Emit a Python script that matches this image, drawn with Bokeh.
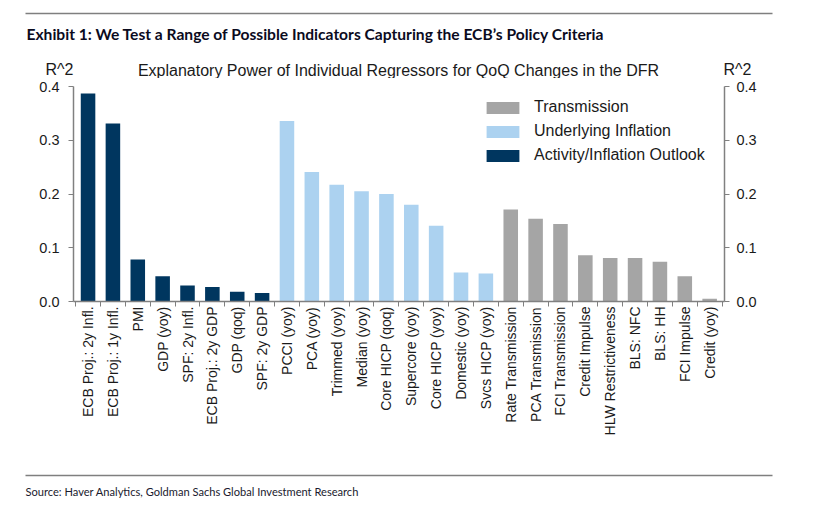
import math
from bokeh.plotting import figure
from bokeh.layouts import column
from bokeh.models import (ColumnDataSource, Range1d, LinearAxis, FixedTicker, PrintfTickFormatter,
                          Label, Legend, LegendItem)
from bokeh.embed import file_html
from bokeh.resources import INLINE

# ---------------- data ----------------
categories = [
    "ECB Proj.: 2y Infl.", "ECB Proj.: 1y Infl.", "PMI", "GDP (yoy)", "SPF: 2y Infl.",
    "ECB Proj.: 2y GDP", "GDP (qoq)", "SPF: 2y GDP",
    "PCCI (yoy)", "PCA (yoy)", "Trimmed (yoy)", "Median (yoy)", "Core HICP (qoq)",
    "Supercore (yoy)", "Core HICP (yoy)", "Domestic (yoy)", "Svcs HICP (yoy)",
    "Rate Transmission", "PCA Transmission", "FCI Transmission", "Credit Impulse",
    "HLW Restrictiveness", "BLS: NFC", "BLS: HH", "FCI Impulse", "Credit (yoy)",
]
r2_values = [
    0.387, 0.331, 0.078, 0.047, 0.030, 0.027, 0.018, 0.016,
    0.336, 0.241, 0.217, 0.205, 0.200, 0.180, 0.141, 0.054, 0.052,
    0.171, 0.154, 0.144, 0.086, 0.081, 0.081, 0.074, 0.047, 0.005,
]
groups = (["Activity/Inflation Outlook"] * 8 + ["Underlying Inflation"] * 9
          + ["Transmission"] * 9)
group_colors = {
    "Transmission": "#A5A5A5",
    "Underlying Inflation": "#ACD2F0",
    "Activity/Inflation Outlook": "#00365F",
}
legend_order = ["Transmission", "Underlying Inflation", "Activity/Inflation Outlook"]
y_ticks = [0.0, 0.1, 0.2, 0.3, 0.4]

title_text = "Exhibit 1: We Test a Range of Possible Indicators Capturing the ECB\u2019s Policy Criteria"
chart_title = "Explanatory Power of Individual Regressors for QoQ Changes in the DFR"
axis_title = "R^2"
source_text = "Source: Haver Analytics, Goldman Sachs Global Investment Research"

FONT = "Liberation Sans"
HEAD_FONT = "Lato"
AXIS_COLOR = "#808080"
LABEL_COLOR = "#1a1a1a"
RULE_COLOR = "#7f7f7f"
W = 816
TOP_H, BOT_H = 78, 46
MAIN_H = 508 - TOP_H - BOT_H
n = len(categories)


def strip_fig(h):
    f = figure(width=W, height=h, output_backend="svg", toolbar_location=None,
               x_range=Range1d(0, W), y_range=Range1d(h, 0),
               x_axis_location=None, y_axis_location=None,
               min_border=0, min_border_left=0, min_border_right=0,
               min_border_top=0, min_border_bottom=0, frame_align=False)
    f.outline_line_color = None
    f.xgrid.visible = False
    f.ygrid.visible = False
    f.background_fill_color = "white"
    f.border_fill_color = "white"
    return f


def add_text(f, x, y, text, size, align="left", font=FONT, style="normal", color=LABEL_COLOR):
    f.add_layout(Label(x=x, y=y, text=text, text_font=font, text_font_size=size,
                       text_font_style=style, text_color=color,
                       text_align=align, text_baseline="middle"))


# ---------------- top strip: rule, exhibit title, chart title, R^2 labels ----------------
top = strip_fig(TOP_H)
top.segment(x0=[25], y0=[13], x1=[772], y1=[13], line_color=RULE_COLOR, line_width=1.5)
add_text(top, 26, 33, title_text, "15.6px", font=HEAD_FONT, style="bold", color="#0b0b1e")
add_text(top, 59, 69, axis_title, "16px", align="center")
add_text(top, 737, 69, axis_title, "16px", align="center")
add_text(top, 398, 70, chart_title, "16px", align="center")

# ---------------- main chart ----------------
p = figure(width=W, height=MAIN_H, output_backend="svg", toolbar_location=None,
           x_range=Range1d(-0.585, n - 1 + 0.597), y_range=Range1d(0, 0.4),
           min_border_left=73, min_border_right=92, min_border_top=8,
           min_border_bottom=MAIN_H - 8 - 215, y_axis_location=None, frame_align=False)
p.outline_line_color = None
p.background_fill_color = "white"
p.border_fill_color = "white"
p.xgrid.visible = False
p.ygrid.visible = False

renderers = {}
for g in legend_order[::-1]:
    idx = [i for i, gg in enumerate(groups) if gg == g]
    src = ColumnDataSource(dict(x=idx, top=[r2_values[i] for i in idx]))
    renderers[g] = p.vbar(x="x", top="top", width=0.585, source=src,
                          fill_color=group_colors[g], line_color=None)

xa = p.xaxis[0]
xa.ticker = FixedTicker(ticks=list(range(n)), minor_ticks=[i - 0.5 for i in range(n + 1)])
xa.major_label_overrides = {i: c for i, c in enumerate(categories)}
xa.major_label_orientation = math.pi / 2
xa.major_label_text_font = FONT
xa.major_label_text_font_size = "14px"
xa.major_label_text_color = LABEL_COLOR
xa.major_label_standoff = 0
xa.major_tick_out = 0
xa.major_tick_in = 0
xa.minor_tick_out = 5
xa.minor_tick_in = 0
xa.minor_tick_line_color = AXIS_COLOR
xa.axis_line_color = AXIS_COLOR
xa.axis_line_width = 1.5

for loc, standoff in (("left", 9), ("right", 7)):
    ya = LinearAxis(ticker=FixedTicker(ticks=y_ticks), formatter=PrintfTickFormatter(format="%.1f"))
    ya.major_label_text_font = FONT
    ya.major_label_text_font_size = "14.5px"
    ya.major_label_text_color = LABEL_COLOR
    ya.major_label_standoff = standoff
    ya.major_tick_out = 5
    ya.major_tick_in = 0
    ya.minor_tick_line_color = None
    ya.major_tick_line_color = AXIS_COLOR
    ya.axis_line_color = AXIS_COLOR
    ya.axis_line_width = 1.5
    p.add_layout(ya, loc)

legend = Legend(items=[LegendItem(label=g, renderers=[renderers[g]]) for g in legend_order],
                location=(409, 136), orientation="vertical",
                glyph_width=41, glyph_height=15, label_height=20, spacing=4,
                label_standoff=11, padding=0, margin=0,
                label_text_font=FONT, label_text_font_size="16px", label_text_color=LABEL_COLOR,
                border_line_color=None, background_fill_alpha=0)
p.add_layout(legend)

# ---------------- bottom strip: rule and source ----------------
bot = strip_fig(BOT_H)
bot.segment(x0=[25], y0=[13], x1=[772], y1=[13], line_color=RULE_COLOR, line_width=1.5)
add_text(bot, 25, 29, source_text, "11.1px", font=HEAD_FONT, color="#1a1a2e")

layout = column(top, p, bot, spacing=0)
open("out.html", "w").write(file_html(layout, INLINE))
